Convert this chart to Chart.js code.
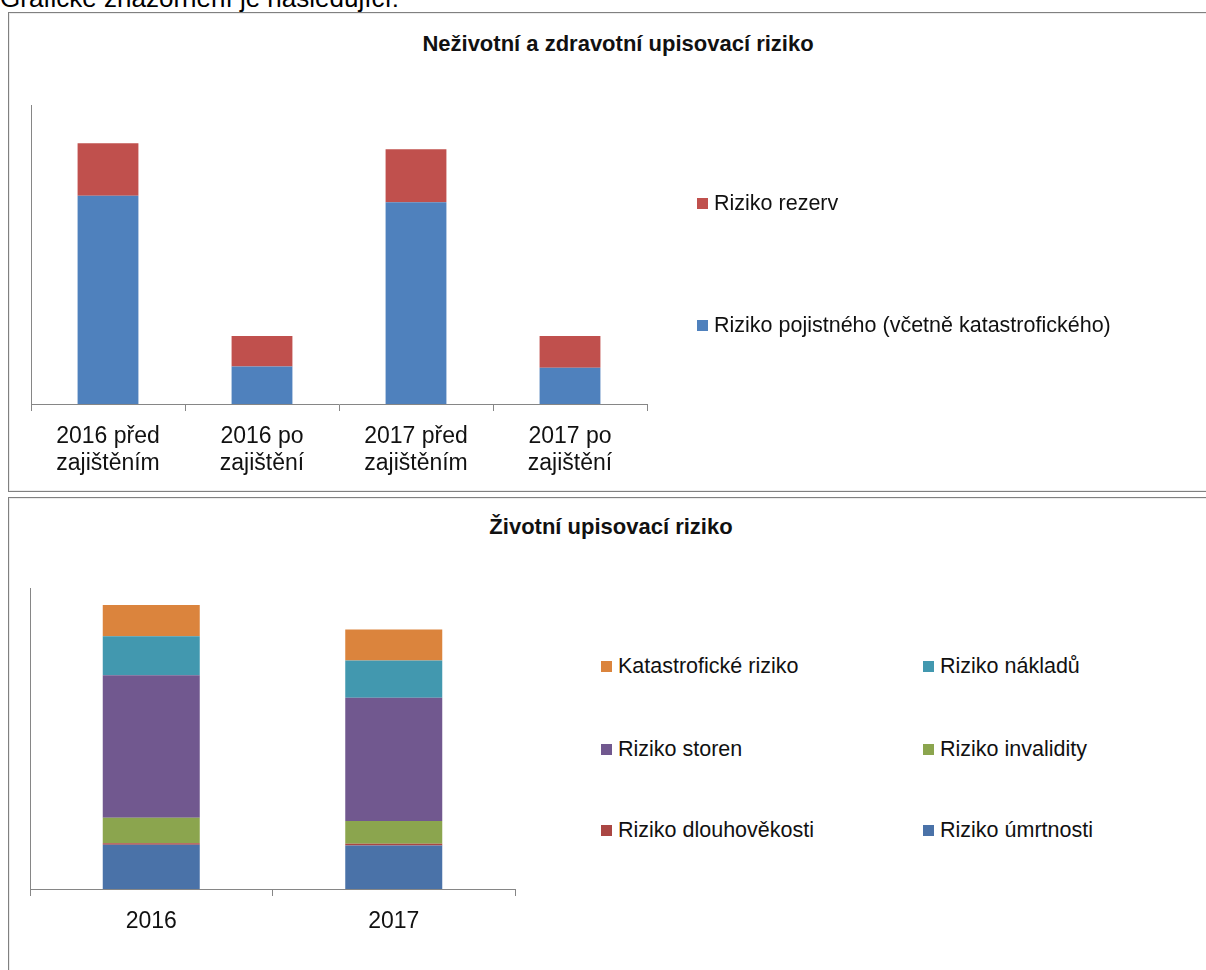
<!DOCTYPE html>
<html><head><meta charset="utf-8">
<script src="https://cdn.jsdelivr.net/npm/chart.js@4"></script>
<style>
html,body{margin:0;padding:0;background:#fff;width:1206px;height:970px;overflow:hidden;position:relative;font-family:"Liberation Sans",Arial,sans-serif;}
.intro{position:absolute;left:0;top:-15px;font-size:26px;line-height:26px;color:#000;white-space:nowrap;}
.panel{position:absolute;border:1px solid #808080;box-shadow:inset 0 0 0 1px #ececec;background:#fff;}
#p1{left:8px;top:12px;width:1200px;height:478px;}
#p2{left:8px;top:497px;width:1200px;height:480px;}
.title{position:absolute;font-weight:bold;font-size:22px;line-height:22px;white-space:nowrap;transform:translateX(-50%);color:#111;}
canvas{position:absolute;}
.leg{position:absolute;height:24px;display:flex;align-items:center;font-size:21.5px;white-space:nowrap;color:#111;}
.leg i{display:inline-block;width:11px;height:11px;margin-right:6px;}
</style></head>
<body>
<div class="intro">Grafické znázornění je následující:</div>
<div class="panel" id="p1"></div>
<div class="panel" id="p2"></div>
<div class="title" style="left:618px;top:33px;">Neživotní a zdravotní upisovací riziko</div>
<div class="title" style="left:611px;top:516px;">Životní upisovací riziko</div>
<canvas id="c1" width="700" height="490" style="left:0;top:0;"></canvas>
<canvas id="c2" width="600" height="473" style="left:0;top:497px;"></canvas>
<div id="legends"></div>
<script>
// Chart 1 data
const categories1 = [['2016 před','zajištěním'],['2016 po','zajištění'],['2017 před','zajištěním'],['2017 po','zajištění']];
const rizikoPojistneho = [62.7, 11.3, 60.7, 10.9];
const rizikoRezerv = [15.8, 9.2, 16.0, 9.6];
const names1 = ['Riziko pojistného (včetně katastrofického)', 'Riziko rezerv'];
const colors1 = ['#4F81BD', '#C0504D'];

// Chart 2 data
const categories2 = ['2016', '2017'];
const rizikoUmrtnosti = [13.2, 13.0];
const rizikoDlouhovekosti = [0.5, 0.5];
const rizikoInvalidity = [7.6, 6.8];
const rizikoStoren = [42.6, 36.9];
const rizikoNakladu = [11.7, 11.1];
const katastrofickeRiziko = [9.3, 9.3];
const names2 = ['Riziko úmrtnosti','Riziko dlouhověkosti','Riziko invalidity','Riziko storen','Riziko nákladů','Katastrofické riziko'];
const colors2 = ['#4A72A8','#AA4643','#8BA54E','#71588F','#4298AF','#DB843D'];

const FONT = '"Liberation Sans", Arial, sans-serif';

function options(max, xHeight, pad, barPct){
  return {
    responsive:false, animation:false, devicePixelRatio:1,
    layout:{padding:pad},
    plugins:{legend:{display:false}, tooltip:{enabled:false}, title:{display:false}},
    datasets:{bar:{categoryPercentage:1, barPercentage:barPct, borderWidth:0}},
    scales:{
      x:{stacked:true,
         grid:{display:true, drawOnChartArea:false, drawTicks:true, tickLength:7, color:'#868686', offset:true},
         border:{display:true, color:'#868686'},
         ticks:{color:'#111', font:{family:FONT, size:23, lineHeight:1.17}, padding:12, maxRotation:0, autoSkip:false},
         afterFit(s){ s.height = xHeight; }},
      y:{stacked:true, min:0, max:max,
         grid:{display:false}, ticks:{display:false},
         border:{display:true, color:'#868686'},
         afterFit(s){ s.width = 0; }}
    }
  };
}

new Chart(document.getElementById('c1'), {
  type:'bar',
  data:{labels:categories1, datasets:[
    {label:names1[0], data:rizikoPojistneho, backgroundColor:colors1[0]},
    {label:names1[1], data:rizikoRezerv, backgroundColor:colors1[1]}
  ]},
  options:options(90, 86, {left:31, top:105, right:53, bottom:0}, 0.395)
});

const series2 = [rizikoUmrtnosti, rizikoDlouhovekosti, rizikoInvalidity, rizikoStoren, rizikoNakladu, katastrofickeRiziko];
new Chart(document.getElementById('c2'), {
  type:'bar',
  data:{labels:categories2, datasets:series2.map((d,i)=>({label:names2[i], data:d, backgroundColor:colors2[i]}))},
  options:options(90, 81, {left:30, top:91, right:85, bottom:0}, 0.40)
});

// HTML legends (reverse order, like the original)
const L = document.getElementById('legends');
function addLeg(name, color, x, cy){
  const d = document.createElement('div');
  d.className = 'leg';
  d.style.left = x + 'px';
  d.style.top = (cy - 12) + 'px';
  const sq = document.createElement('i');
  sq.style.background = color;
  d.appendChild(sq);
  d.appendChild(document.createTextNode(name));
  L.appendChild(d);
}
const leg1Rows = [203, 325];
[1,0].forEach((idx, r) => addLeg(names1[idx], colors1[idx], 697, leg1Rows[r]));
const leg2Cols = [601, 923];
const leg2Rows = [666, 749, 830];
[5,4,3,2,1,0].forEach((idx, k) => addLeg(names2[idx], colors2[idx], leg2Cols[k % 2], leg2Rows[Math.floor(k / 2)]));
</script>
</body></html>
